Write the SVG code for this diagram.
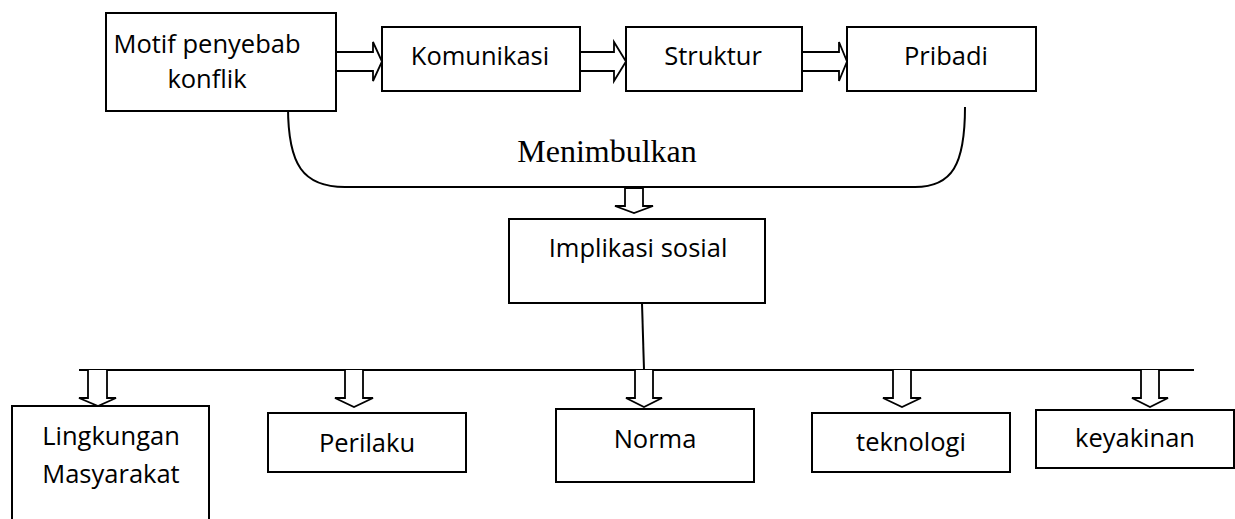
<svg xmlns="http://www.w3.org/2000/svg" width="1235" height="519" viewBox="0 0 1235 519">
<style>
.box{fill:#fff;stroke:#000;stroke-width:2}
.ln{fill:none;stroke:#000;stroke-width:2}
.ar{fill:#fff;stroke:#000;stroke-width:1.8;stroke-linejoin:miter}
.t{font-family:"Open Sans","Noto Sans",sans-serif;font-size:25.5px;fill:#000;text-anchor:middle}
.s{font-family:"Liberation Serif","Times New Roman",serif;font-size:32px;fill:#000;text-anchor:middle}
</style>
<rect width="1235" height="519" fill="#fff"/>
<g id="connectors">
<path class="ln" d="M288,107 C288,165 303,187 345,187 L915,187 C952,187 965,165 965,107"/>
<text class="s" x="607" y="162">Menimbulkan</text>
<path class="ar" d="M336,52 L373,52 L373,42 L382,61.5 L373,81 L373,71 L336,71"/>
<path class="ar" d="M580,52 L614,52 L614,42 L626,61.5 L614,81 L614,71 L580,71"/>
<path class="ar" d="M802,52 L839,52 L839,42 L847,61.5 L839,81 L839,71 L802,71"/>
<path class="ar" d="M625,188 L643,188 L643,206 L653,206 L634,213 L615,206 L625,206 Z"/>
<line class="ln" x1="642" y1="303" x2="644" y2="370"/>
<line class="ln" x1="79" y1="370" x2="1194" y2="370"/>
<path class="ar" d="M88,370 L88,398 L79,398 L98,406 L116,398 L107,398 L107,370"/>
<path class="ar" d="M345,370 L345,398 L335,398 L354,407 L373,398 L363,398 L363,370"/>
<path class="ar" d="M635,370 L635,398 L626,398 L644,407 L662,398 L653,398 L653,370"/>
<path class="ar" d="M893,370 L893,398 L883,398 L902,407 L921,398 L911,398 L911,370"/>
<path class="ar" d="M1141,370 L1141,398 L1132,398 L1150,407 L1168,398 L1159,398 L1159,370"/>
</g>
<g id="motif">
<rect class="box" x="106" y="13" width="230" height="98"/>
<text class="t" x="207" y="53">Motif penyebab</text>
<text class="t" x="207" y="88">konflik</text>
</g>
<g id="komunikasi">
<rect class="box" x="382" y="27" width="198" height="64"/>
<text class="t" x="480" y="65">Komunikasi</text>
</g>
<g id="struktur">
<rect class="box" x="626" y="27" width="176" height="64"/>
<text class="t" x="713" y="65">Struktur</text>
</g>
<g id="pribadi">
<rect class="box" x="847" y="27" width="189" height="64"/>
<text class="t" x="946" y="65">Pribadi</text>
</g>
<g id="implikasi">
<rect class="box" x="509" y="219" width="256" height="84"/>
<text class="t" x="638" y="257">Implikasi sosial</text>
</g>
<g id="lingkungan">
<rect class="box" x="12" y="406" width="197" height="125"/>
<text class="t" x="111" y="445">Lingkungan</text>
<text class="t" x="111" y="483">Masyarakat</text>
</g>
<g id="perilaku">
<rect class="box" x="268" y="413" width="198" height="59"/>
<text class="t" x="367" y="452">Perilaku</text>
</g>
<g id="norma">
<rect class="box" x="556" y="409" width="198" height="73"/>
<text class="t" x="655" y="448">Norma</text>
</g>
<g id="teknologi">
<rect class="box" x="812" y="413" width="198" height="59"/>
<text class="t" x="911" y="451">teknologi</text>
</g>
<g id="keyakinan">
<rect class="box" x="1036" y="410" width="198" height="58"/>
<text class="t" x="1135" y="447">keyakinan</text>
</g>
</svg>
